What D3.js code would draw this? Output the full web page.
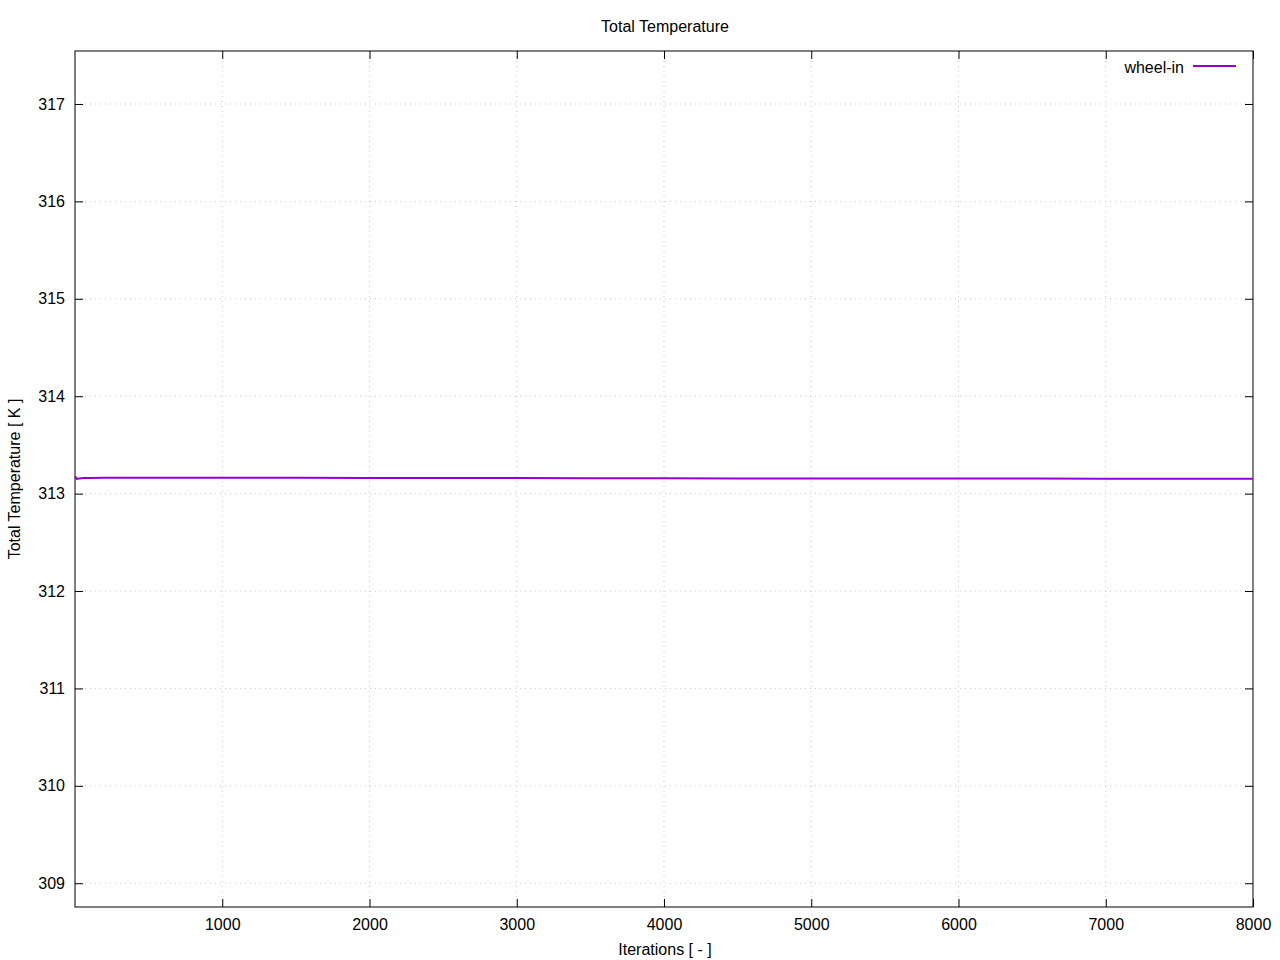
<!DOCTYPE html>
<html><head><meta charset="utf-8">
<script src="https://cdn.jsdelivr.net/npm/d3@7"></script>
<style>body{margin:0;background:#fff;}svg{display:block;font-family:"Liberation Sans",Arial,sans-serif;}</style>
</head><body><svg id="c" width="1280" height="960"></svg>
<script>
const iterations = [1, 10, 30, 60, 100, 200, 400, 700, 1000, 1500, 2000, 2500, 3000, 3500, 4000, 4500, 5000, 5500, 6000, 6500, 7000, 7500, 8000];
const temperature = [313.18, 313.152, 313.156, 313.159, 313.161, 313.163, 313.164, 313.164, 313.163, 313.162, 313.161, 313.160, 313.159, 313.158, 313.157, 313.156, 313.155, 313.155, 313.154, 313.154, 313.153, 313.153, 313.153];
const xTicks = [1000, 2000, 3000, 4000, 5000, 6000, 7000, 8000];
const yTicks = [309, 310, 311, 312, 313, 314, 315, 316, 317];
const seriesName = "wheel-in";

const svg = d3.select("#c");
const L = 75, R = 1253, T = 51, B = 907;
const x = d3.scaleLinear().domain([0, 8000]).range([L, R]);
const y = d3.scaleLinear().domain([308.756, 317.544]).range([B, T]);

// grid
const g = svg.append("g");
g.selectAll(".gx").data(xTicks.filter(d => d < 8000)).enter().append("line")
  .attr("x1", d => x(d)).attr("x2", d => x(d)).attr("y1", T).attr("y2", B)
  .attr("stroke", "#c8c8c8").attr("stroke-width", 1).attr("stroke-dasharray", "1,4");
g.selectAll(".gy").data(yTicks).enter().append("line")
  .attr("x1", L).attr("x2", R).attr("y1", d => y(d)).attr("y2", d => y(d))
  .attr("stroke", "#c8c8c8").attr("stroke-width", 1).attr("stroke-dasharray", "1,4");

// axes with inward ticks
const tl = 8;
const ax = svg.append("g").attr("transform", `translate(0,${B})`)
  .call(d3.axisBottom(x).tickValues(xTicks).tickSizeInner(-tl).tickSizeOuter(0).tickPadding(12).tickFormat(d3.format("d")));
const axT = svg.append("g").attr("transform", `translate(0,${T})`)
  .call(d3.axisTop(x).tickValues(xTicks).tickSizeInner(-tl).tickSizeOuter(0).tickFormat(""));
const ay = svg.append("g").attr("transform", `translate(${L},0)`)
  .call(d3.axisLeft(y).tickValues(yTicks).tickSizeInner(-tl).tickSizeOuter(0).tickPadding(10).tickFormat(d3.format("d")));
const ayR = svg.append("g").attr("transform", `translate(${R},0)`)
  .call(d3.axisRight(y).tickValues(yTicks).tickSizeInner(-tl).tickSizeOuter(0).tickFormat(""));
[ax, axT, ay, ayR].forEach(a => {
  a.select(".domain").remove();
  a.selectAll("line").attr("stroke", "#000").attr("stroke-width", 1);
  a.selectAll("text").attr("fill", "#000").style("font-size", "16px").style("font-family", "Liberation Sans, Arial, sans-serif");
});
ax.selectAll("text").attr("dy", "0.71em");

// frame
svg.append("rect").attr("x", L).attr("y", T).attr("width", R - L).attr("height", B - T)
  .attr("fill", "none").attr("stroke", "#000").attr("stroke-width", 1);

// line
const pts = iterations.map((d, i) => [d, temperature[i]]);
svg.append("path").datum(pts)
  .attr("d", d3.line().x(d => x(d[0])).y(d => y(d[1])))
  .attr("fill", "none").attr("stroke", "#9400d3").attr("stroke-width", 2);

// legend
svg.append("text").attr("x", 1184).attr("y", 73).attr("text-anchor", "end")
  .style("font-size", "16px").text(seriesName);
svg.append("line").attr("x1", 1193).attr("x2", 1236).attr("y1", 66).attr("y2", 66)
  .attr("stroke", "#9400d3").attr("stroke-width", 2);

// titles
svg.append("text").attr("x", 665).attr("y", 32).attr("text-anchor", "middle")
  .style("font-size", "16px").text("Total Temperature");
svg.append("text").attr("x", 665).attr("y", 955).attr("text-anchor", "middle")
  .style("font-size", "16px").text("Iterations [ - ]");
svg.append("text").attr("transform", "translate(20,479) rotate(-90)").attr("text-anchor", "middle")
  .style("font-size", "16px").text("Total Temperature [ K ]");
</script></body></html>
